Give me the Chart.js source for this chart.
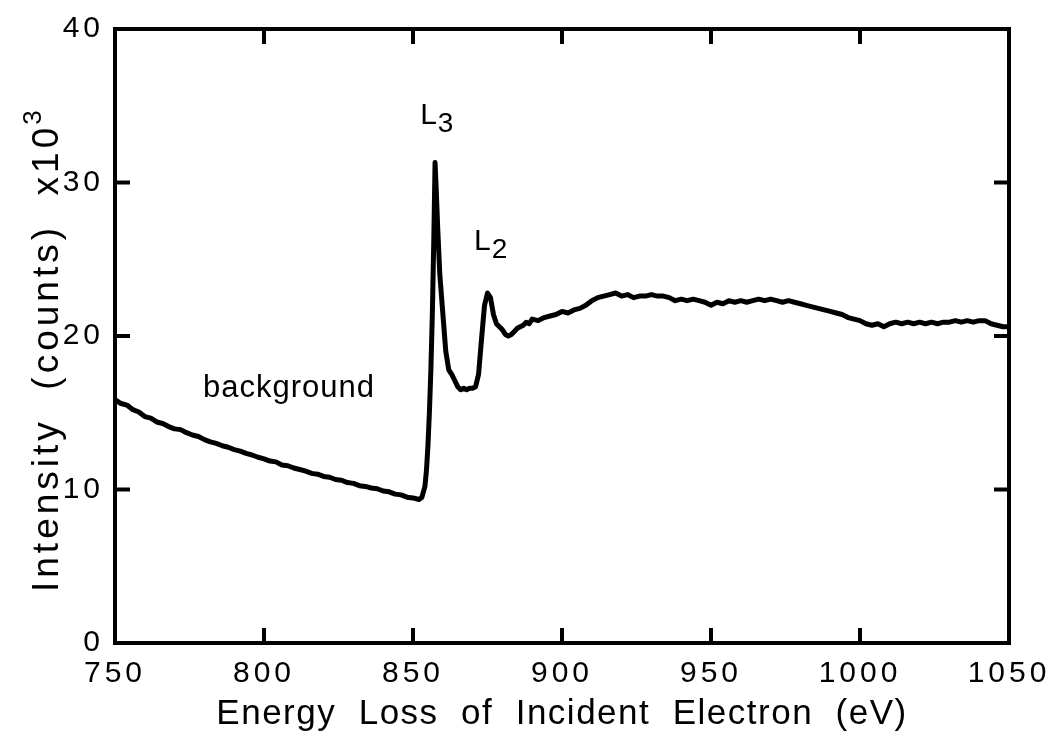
<!DOCTYPE html>
<html>
<head>
<meta charset="utf-8">
<script src="https://cdn.jsdelivr.net/npm/chart.js@4"></script>
<style>
  html, body { margin: 0; padding: 0; background: #fff; }
  #wrap { width: 1056px; height: 741px; }
</style>
</head>
<body>
<div id="wrap"><canvas id="eelsChart" width="1056" height="741"></canvas></div>
<script>
// energy loss (eV) and intensity (x10^3 counts) of the L-edge spectrum
const energies = [
  750, 752, 754, 756, 758, 760, 762, 764, 766, 768, 770, 772, 774, 776, 778, 780,
  782, 784, 786, 788, 790, 792, 794, 796, 798, 800, 802, 804, 806, 808, 810, 812,
  814, 816, 818, 820, 822, 824, 826, 828, 830, 832, 834, 836, 838, 840, 842, 844,
  846, 848, 850, 852,
  853, 854, 854.5, 855, 855.5, 856, 856.5, 857, 857.4, 857.8, 858.3, 859, 860, 861,
  862, 863, 864, 865, 866, 867, 868, 869, 870, 871, 872, 873, 874, 875, 876, 877,
  878, 879, 880, 881, 882, 883, 884, 885, 886, 887, 888, 889, 890,
  892, 894, 896, 898, 900, 902, 904, 906, 908, 910, 912, 914, 916, 918, 920, 922,
  924, 926, 928, 930, 932, 934, 936, 938, 940, 942, 944, 946, 948, 950, 952, 954,
  956, 958, 960, 962, 964, 966, 968, 970, 972, 974, 976, 978, 980, 982, 984, 986,
  988, 990, 992, 994, 996, 998, 1000, 1002, 1004, 1006, 1008, 1010, 1012, 1014, 1016, 1018,
  1020, 1022, 1024, 1026, 1028, 1030, 1032, 1034, 1036, 1038, 1040, 1042, 1044, 1046, 1048, 1050
];
const intensity = [
  15.85, 15.6, 15.5, 15.2, 15.05, 14.75, 14.65, 14.4, 14.3, 14.1, 13.95, 13.9, 13.7, 13.55, 13.45, 13.25,
  13.1, 13.0, 12.85, 12.75, 12.6, 12.5, 12.35, 12.25, 12.1, 12.0, 11.85, 11.8, 11.6, 11.55, 11.4, 11.3,
  11.2, 11.05, 11.0, 10.85, 10.8, 10.65, 10.6, 10.45, 10.4, 10.25, 10.2, 10.1, 10.05, 9.9, 9.85, 9.7,
  9.65, 9.5, 9.45, 9.35,
  9.5, 10.2, 11.2, 12.8, 15.0, 17.8, 21.5, 26.5, 31.3, 29.5, 27.0, 24.0, 21.5, 19.0,
  17.8, 17.5, 17.1, 16.7, 16.5, 16.6, 16.5, 16.6, 16.6, 16.7, 17.5, 19.8, 22.0, 22.8, 22.5, 21.4,
  20.8, 20.6, 20.4, 20.1, 20.0, 20.1, 20.3, 20.5, 20.6, 20.7, 20.9, 20.8, 21.1,
  21.0, 21.2, 21.3, 21.4, 21.6, 21.5, 21.7, 21.8, 22.0, 22.3, 22.5, 22.6, 22.7, 22.8, 22.6, 22.7,
  22.5, 22.6, 22.6, 22.7, 22.6, 22.6, 22.5, 22.3, 22.4, 22.3, 22.4, 22.3, 22.2, 22.0, 22.2, 22.1,
  22.3, 22.2, 22.3, 22.2, 22.3, 22.4, 22.3, 22.4, 22.3, 22.2, 22.3, 22.2, 22.1, 22.0, 21.9, 21.8,
  21.7, 21.6, 21.5, 21.4, 21.2, 21.1, 21.0, 20.8, 20.7, 20.8, 20.6, 20.8, 20.9, 20.8, 20.9, 20.8,
  20.9, 20.8, 20.9, 20.8, 20.9, 20.9, 21.0, 20.9, 21.0, 20.9, 21.0, 21.0, 20.8, 20.7, 20.6, 20.6
];

const xTicks = [750, 800, 850, 900, 950, 1000, 1050];
const yTicks = [0, 10, 20, 30, 40];

// text labels placed at data coordinates
const notes = [
  { text: 'L', sub: '3', x: 852.4, y: 33.8 },
  { text: 'L', sub: '2', x: 870.5, y: 25.6 },
  { text: 'background', sub: '', x: 779.5, y: 16.0 }
];

const xTitle = 'Energy  Loss  of  Incident  Electron  (eV)';
const yTitle = 'Intensity  (counts)  x10';
const yTitleSup = '3';

const FONT = '"Liberation Sans", Arial, Helvetica, sans-serif';

// inward ticks on all four sides, the frame, axis titles and annotations
const framePlugin = {
  id: 'frame',
  beforeDraw(chart) {
    chart.ctx.letterSpacing = '4px';
  },
  afterDraw(chart) {
    const ctx = chart.ctx;
    const { left, right, top, bottom } = chart.chartArea;
    const xs = chart.scales.x, ys = chart.scales.y;
    const len = 15;
    ctx.save();
    ctx.letterSpacing = '0px';
    ctx.strokeStyle = '#000';
    ctx.lineWidth = 4;
    ctx.lineCap = 'butt';
    xTicks.slice(1, -1).forEach(v => {
      const px = xs.getPixelForValue(v);
      ctx.beginPath();
      ctx.moveTo(px, bottom); ctx.lineTo(px, bottom - len);
      ctx.moveTo(px, top); ctx.lineTo(px, top + len);
      ctx.stroke();
    });
    yTicks.slice(1, -1).forEach(v => {
      const py = ys.getPixelForValue(v);
      ctx.beginPath();
      ctx.moveTo(left, py); ctx.lineTo(left + len, py);
      ctx.moveTo(right, py); ctx.lineTo(right - len, py);
      ctx.stroke();
    });
    ctx.strokeRect(left, top, right - left, bottom - top);

    ctx.fillStyle = '#000';
    ctx.textBaseline = 'alphabetic';

    // x axis title
    ctx.font = '35px ' + FONT;
    ctx.letterSpacing = '1.5px';
    ctx.textAlign = 'center';
    ctx.fillText(xTitle, (left + right) / 2, 724);

    // y axis title, read bottom to top, with raised exponent
    ctx.save();
    ctx.translate(58, 592);
    ctx.rotate(-Math.PI / 2);
    ctx.textAlign = 'left';
    ctx.font = '37px ' + FONT;
    ctx.letterSpacing = '4px';
    ctx.fillText(yTitle, 0, 0);
    const tw = ctx.measureText(yTitle).width;
    ctx.font = '26px ' + FONT;
    ctx.fillText(yTitleSup, tw - 1, -17);
    ctx.restore();

    ctx.textAlign = 'left';
    notes.forEach(n => {
      const px = xs.getPixelForValue(n.x);
      const py = ys.getPixelForValue(n.y);
      ctx.font = (n.sub ? '30px ' : '31px ') + FONT;
      ctx.letterSpacing = n.sub ? '0px' : '1px';
      ctx.fillText(n.text, px, py);
      if (n.sub) {
        const w = ctx.measureText(n.text).width;
        ctx.font = '28px ' + FONT;
        ctx.fillText(n.sub, px + w + 1, py + 8);
      }
    });
    ctx.restore();
  }
};

new Chart(document.getElementById('eelsChart'), {
  type: 'scatter',
  data: {
    datasets: [{
      data: energies.map((e, i) => ({ x: e, y: intensity[i] })),
      showLine: true,
      borderColor: '#000',
      borderWidth: 5,
      borderJoinStyle: 'round',
      borderCapStyle: 'round',
      pointRadius: 0,
      tension: 0
    }]
  },
  options: {
    responsive: false,
    animation: false,
    events: [],
    layout: { padding: { left: 0, right: 47, top: 22, bottom: 0 } },
    plugins: { legend: { display: false }, tooltip: { enabled: false } },
    scales: {
      x: {
        type: 'linear',
        min: 750,
        max: 1050,
        afterBuildTicks: axis => { axis.ticks = xTicks.map(v => ({ value: v })); },
        afterFit: axis => { axis.height = 98; },
        grid: { display: false, drawTicks: false },
        border: { display: false },
        ticks: {
          color: '#000',
          font: { family: FONT, size: 30 },
          padding: 13,
          maxRotation: 0,
          callback: v => String(v)
        }
      },
      y: {
        min: 0,
        max: 40,
        afterBuildTicks: axis => { axis.ticks = yTicks.map(v => ({ value: v })); },
        afterFit: axis => { axis.width = 115; },
        grid: { display: false, drawTicks: false },
        border: { display: false },
        ticks: { color: '#000', font: { family: FONT, size: 30 }, padding: 11, callback: v => String(v) }
      }
    }
  },
  plugins: [framePlugin]
});
</script>
</body>
</html>
